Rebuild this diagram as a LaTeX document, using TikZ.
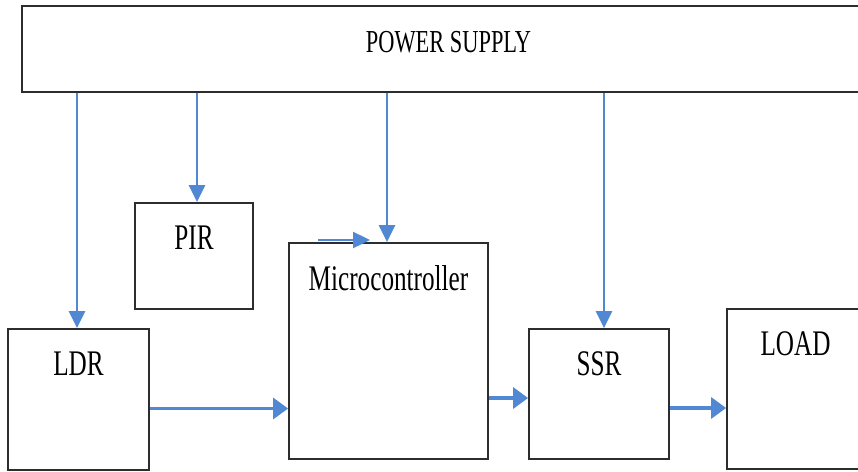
\documentclass[tikz,border=0pt]{standalone}
\usepackage{fontspec}
\setmainfont{Liberation Serif}[FakeStretch=0.7]
\usepackage{xcolor}
\usepackage{tikz}
\usetikzlibrary{arrows.meta,positioning}

\definecolor{wireblue}{RGB}{80,136,212}
\definecolor{boxgray}{RGB}{45,45,45}

\tikzset{
  blk/.style={draw=boxgray, line width=1.8pt, inner sep=0pt},
  lbl/.style={inner sep=0pt, outer sep=0pt, font=\fontsize{36}{40}\selectfont},
  flow/.style={draw=wireblue, line width=2.4pt, -{Triangle[length=17pt, width=16pt]}},
  thickflow/.style={flow, line width=3.2pt, -{Triangle[length=15pt, width=21pt]}}
}

\begin{document}
\begin{tikzpicture}[x=1pt, y=-1pt]
\useasboundingbox (0,0) rectangle (858,471);
% blocks
\node[blk, minimum width=848pt, minimum height=86pt] (ps) at (446,49) {};
\node[blk, minimum width=118pt, minimum height=106pt] (pir) at (194,256) {};
\node[blk, minimum width=141pt, minimum height=141pt] (ldr) at (78.5,399.5) {};
\node[blk, minimum width=199pt, minimum height=216pt] (mc) at (388.5,351) {};
\node[blk, minimum width=140pt, minimum height=130pt] (ssr) at (599,394) {};
\node[blk, minimum width=137pt, minimum height=160pt] (load) at (795.5,389) {};
% texts
\node[lbl, font=\fontsize{32}{36}\selectfont, below=26pt of ps.north, xshift=2.5pt] (pstxt) {POWER SUPPLY};
\node[lbl, below=24pt of pir.north] (pirtxt) {PIR};
\node[lbl, below=24pt of ldr.north] (ldrtxt) {LDR};
\node[lbl, below=23pt of mc.north] (mctxt) {Microcontroller};
\node[lbl, below=24pt of ssr.north] (ssrtxt) {SSR};
\node[lbl, below=24pt of load.north] (loadtxt) {LOAD};
% supply lines
\draw[flow] ([xshift=-1.5pt]ldr.north |- ps.south) -- ([xshift=-1.5pt]ldr.north);
\draw[flow] ([xshift=3pt]pir.north |- ps.south) -- ([xshift=3pt]pir.north);
\draw[flow] ([xshift=-1.5pt]mc.north |- ps.south) -- ([xshift=-1.5pt]mc.north);
\draw[flow] ([xshift=5pt]ssr.north |- ps.south) -- ([xshift=5pt]ssr.north);
% signal lines
\coordinate (mcin) at (318,240);
\coordinate (mctip) at (370,240);
\draw[flow] (mcin) -- (mctip);
\coordinate (ldrout) at ([yshift=-9pt]ldr.east);
\draw[thickflow] (ldrout) -- (mc.west |- ldrout);
\coordinate (ssrin) at ([yshift=-4pt]ssr.west);
\draw[thickflow] (mc.east |- ssrin) -- (ssrin);
\coordinate (ssrout) at ([yshift=-14pt]ssr.east);
\draw[thickflow] (ssrout) -- (load.west |- ssrout);
\end{tikzpicture}
\end{document}
